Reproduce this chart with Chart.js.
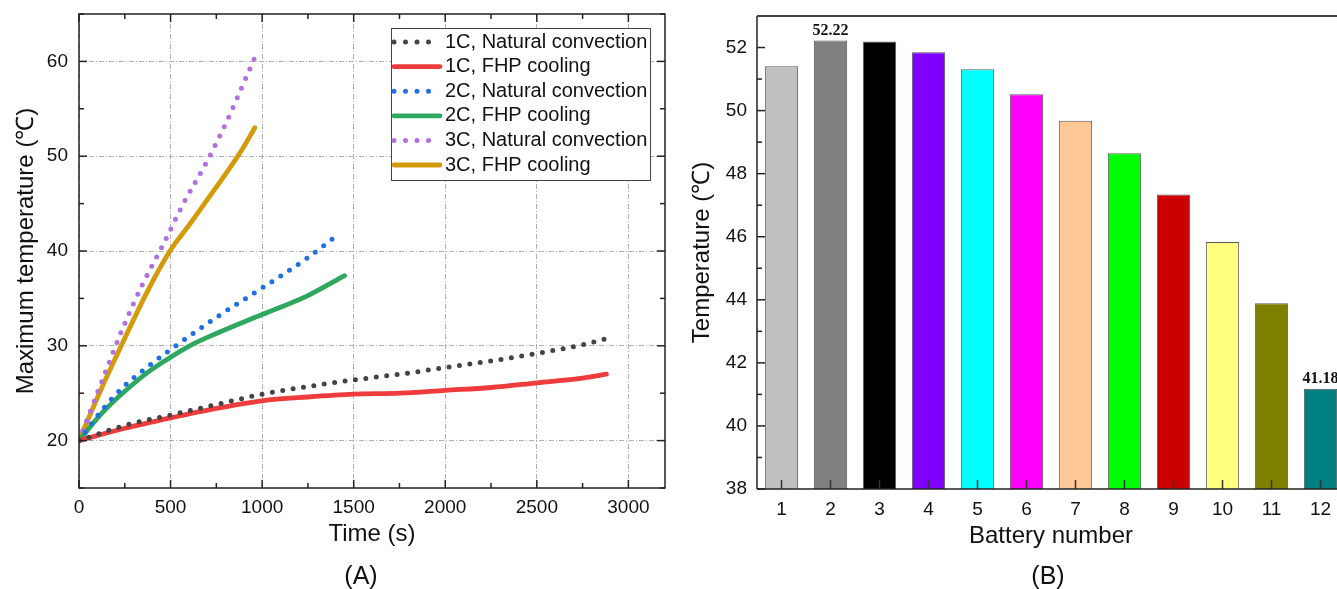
<!DOCTYPE html>
<html>
<head>
<meta charset="utf-8">
<script src="https://cdn.jsdelivr.net/npm/chart.js@4.4.0/dist/chart.umd.min.js"></script>
<style>
  html, body { margin: 0; padding: 0; background: #fff; }
  body { width: 1337px; height: 589px; position: relative; overflow: hidden; font-family: 'Liberation Sans', Arial, sans-serif; }
  #wrapA { position: absolute; left: 0; top: 0; width: 680px; height: 589px; }
  #wrapB { position: absolute; left: 680px; top: 0; width: 657px; height: 589px; overflow: hidden; }
  .panel { position: absolute; top: 561px; font-size: 25px; line-height: 28px; color: #111; transform: translateX(-50%); }
</style>
</head>
<body>
<div id="wrapA"><canvas id="chartA" width="680" height="589"></canvas></div>
<div id="wrapB"><canvas id="chartB" width="680" height="589"></canvas></div>
<div class="panel" style="left:361px">(A)</div>
<div class="panel" style="left:1048px">(B)</div>
<script>
// Panel A - maximum temperature vs time
const timeNat1C = [0, 250, 500, 750, 1000, 1250, 1500, 1750, 2000, 2250, 2500, 2750, 2870];
const tempNat1C = [20, 21.6, 22.7, 23.8, 24.9, 25.7, 26.4, 27.0, 27.7, 28.4, 29.2, 30.1, 30.7];
const timeFhp1C = [0, 250, 500, 750, 1000, 1250, 1500, 1750, 2000, 2250, 2500, 2750, 2880];
const tempFhp1C = [20, 21.3, 22.4, 23.4, 24.2, 24.6, 24.9, 25.0, 25.3, 25.6, 26.1, 26.6, 27.0];
const timeNat2C = [0, 125, 250, 375, 500, 750, 1000, 1250, 1400];
const tempNat2C = [20, 23.2, 25.8, 27.8, 29.6, 33.0, 36.1, 39.3, 41.5];
const timeFhp2C = [0, 125, 250, 375, 500, 625, 750, 1000, 1250, 1450];
const tempFhp2C = [20, 22.9, 25.2, 27.2, 28.8, 30.2, 31.3, 33.3, 35.3, 37.4];
const timeNat3C = [0, 120, 240, 350, 460, 570, 700, 810, 910, 960];
const tempNat3C = [20, 26.0, 31.9, 36.6, 40.7, 45.0, 49.5, 53.8, 58.2, 60.4];
const timeFhp3C = [0, 125, 250, 375, 500, 600, 700, 800, 900, 960];
const tempFhp3C = [20, 25.6, 30.8, 35.8, 40.1, 42.7, 45.4, 48.1, 51.0, 53.0];
const xTicksA = [0, 500, 1000, 1500, 2000, 2500, 3000];
const yTicksA = [20, 30, 40, 50, 60];

// Panel B - temperature per battery
const batteryLabels = ['1', '2', '3', '4', '5', '6', '7', '8', '9', '10', '11', '12'];
const batteryTemps = [51.41, 52.22, 52.19, 51.85, 51.31, 50.52, 49.68, 48.65, 47.34, 45.83, 43.89, 41.18];
const batteryColors = ['#C0C0C0', '#808080', '#000000', '#8000FF', '#00FFFF', '#FF00FF',
                       '#FFC896', '#00FF00', '#CC0000', '#FFFF80', '#808000', '#008080'];
const yTicksB = [38, 40, 42, 44, 46, 48, 50, 52];

const FONT = "'Liberation Sans', Arial, sans-serif";
Chart.defaults.font.family = FONT;
Chart.defaults.color = '#111';

const pts = (xs, ys) => xs.map((x, i) => ({ x: x, y: ys[i] }));
const plain = v => String(v);

// fixed axis boxes so the plot area lands where the figure has it
const fixHeight = h => s => { s.height = h; s.paddingLeft = 0; s.paddingRight = 0; };
const fixWidth = w => s => { s.width = w; s.paddingTop = 0; s.paddingBottom = 0; };

function lineSet(label, xs, ys, color, dotted) {
    return {
        label: label,
        data: pts(xs, ys),
        borderColor: color,
        backgroundColor: color,
        borderWidth: dotted ? 5 : 4.8,
        borderDash: dotted ? [0, 10.5] : [],
        borderCapStyle: 'round',
        pointRadius: 0,
        fill: false,
        cubicInterpolationMode: 'monotone',
        dotted: dotted
    };
}

function tick(ctx, x1, y1, x2, y2) {
    ctx.beginPath();
    ctx.moveTo(x1, y1);
    ctx.lineTo(x2, y2);
    ctx.stroke();
}

// box + inward ticks on all four sides
const frameA = {
    id: 'frameA',
    afterDraw(chart) {
        const { ctx, chartArea: a, scales: { x, y } } = chart;
        ctx.save();
        ctx.strokeStyle = '#222';
        ctx.lineWidth = 1.5;
        for (let v = x.min; v <= x.max; v += 250) {
            const px = x.getPixelForValue(v);
            const len = v % 500 === 0 ? 8 : 5;
            tick(ctx, px, a.bottom, px, a.bottom - len);
            tick(ctx, px, a.top, px, a.top + len);
        }
        for (let v = y.min; v <= y.max; v += 5) {
            const py = y.getPixelForValue(v);
            const len = v % 10 === 0 ? 8 : 5;
            tick(ctx, a.left, py, a.left + len, py);
            tick(ctx, a.right, py, a.right - len, py);
        }
        ctx.strokeRect(a.left, a.top, a.right - a.left, a.bottom - a.top);
        ctx.restore();
    }
};

// framed legend in the upper right corner
const legendA = {
    id: 'legendA',
    afterDraw(chart) {
        const { ctx, chartArea: a } = chart;
        const bw = 259, bh = 152;
        const bx = a.right - 15 - bw, by = a.top + 14;
        ctx.save();
        ctx.fillStyle = '#fff';
        ctx.fillRect(bx, by, bw, bh);
        ctx.strokeStyle = '#444';
        ctx.lineWidth = 1;
        ctx.strokeRect(bx + 0.5, by + 0.5, bw, bh);
        ctx.font = '20px ' + FONT;
        ctx.textBaseline = 'middle';
        chart.data.datasets.forEach((ds, i) => {
            const ry = by + 14 + i * 24.6;
            ctx.strokeStyle = ds.borderColor;
            ctx.lineCap = 'round';
            if (ds.dotted) {
                ctx.lineWidth = 5;
                ctx.setLineDash([0, 11.5]);
                tick(ctx, bx + 3, ry, bx + 40, ry);
            } else {
                ctx.lineWidth = 4.8;
                ctx.setLineDash([]);
                tick(ctx, bx + 3, ry, bx + 49, ry);
            }
            ctx.setLineDash([]);
            ctx.fillStyle = '#111';
            ctx.fillText(ds.label, bx + 54, ry);
        });
        ctx.restore();
    }
};

new Chart(document.getElementById('chartA'), {
    type: 'line',
    data: {
        datasets: [
            lineSet('1C, Natural convection', timeNat1C, tempNat1C, '#444444', true),
            lineSet('1C, FHP cooling', timeFhp1C, tempFhp1C, '#EE3B3B', false),
            lineSet('2C, Natural convection', timeNat2C, tempNat2C, '#1F6FE6', true),
            lineSet('2C, FHP cooling', timeFhp2C, tempFhp2C, '#2EA85E', false),
            lineSet('3C, Natural convection', timeNat3C, tempNat3C, '#B070E0', true),
            lineSet('3C, FHP cooling', timeFhp3C, tempFhp3C, '#D39B0A', false)
        ]
    },
    options: {
        responsive: false,
        animation: false,
        layout: { padding: { top: 14, right: 15, left: 0, bottom: 0 } },
        plugins: { legend: { display: false }, tooltip: { enabled: false } },
        scales: {
            x: {
                type: 'linear',
                min: 0,
                max: 3200,
                afterBuildTicks: s => { s.ticks = xTicksA.map(v => ({ value: v })); },
                afterFit: fixHeight(101),
                grid: { color: '#b0b0b0', lineWidth: 1, drawTicks: false },
                border: { display: false, dash: [5, 2, 1, 2] },
                ticks: { font: { size: 19 }, padding: 8, maxRotation: 0, color: '#111', callback: plain },
                title: { display: true, text: 'Time (s)', color: '#111', font: { size: 24 }, padding: { top: 0, bottom: 40 } }
            },
            y: {
                min: 15,
                max: 65,
                afterBuildTicks: s => { s.ticks = yTicksA.map(v => ({ value: v })); },
                afterFit: fixWidth(79),
                grid: { color: '#b0b0b0', lineWidth: 1, drawTicks: false },
                border: { display: false, dash: [5, 2, 1, 2] },
                ticks: { font: { size: 19 }, padding: 11, color: '#111', callback: plain },
                title: { display: true, text: 'Maximum temperature (℃)', color: '#111', font: { size: 24 }, padding: { top: 12, bottom: 0 } }
            }
        }
    },
    plugins: [frameA, legendA]
});

// left/bottom axes, top line, inward ticks
const frameB = {
    id: 'frameB',
    afterDraw(chart) {
        const { ctx, chartArea: a, scales: { x, y } } = chart;
        ctx.save();
        ctx.strokeStyle = '#222';
        ctx.lineWidth = 1.5;
        for (let v = y.min; v <= y.max; v += 1) {
            const py = y.getPixelForValue(v);
            tick(ctx, a.left, py, a.left + (v % 2 === 0 ? 8 : 5), py);
        }
        ctx.strokeStyle = '#333';
        x.ticks.forEach((t, i) => {
            const px = x.getPixelForTick(i);
            tick(ctx, px, a.bottom, px, a.bottom - 9);
        });
        ctx.strokeStyle = '#222';
        tick(ctx, a.left, a.top, a.left, a.bottom);
        tick(ctx, a.left, a.bottom, a.right, a.bottom);
        ctx.strokeStyle = '#444';
        ctx.lineWidth = 2;
        tick(ctx, a.left, a.top, a.right, a.top);
        tick(ctx, a.right, a.top, a.right, a.bottom);
        ctx.restore();
    }
};

// value labels on the hottest and coolest battery
const barLabels = {
    id: 'barLabels',
    afterDatasetsDraw(chart) {
        const { ctx } = chart;
        const meta = chart.getDatasetMeta(0);
        const vals = chart.data.datasets[0].data;
        const hi = vals.indexOf(Math.max(...vals));
        const lo = vals.indexOf(Math.min(...vals));
        ctx.save();
        ctx.font = "bold 16px 'Liberation Serif', 'Times New Roman', serif";
        ctx.fillStyle = '#111';
        ctx.textAlign = 'center';
        ctx.textBaseline = 'alphabetic';
        [hi, lo].forEach(i => {
            const bar = meta.data[i];
            ctx.fillText(vals[i].toFixed(2), bar.x, bar.y - 6);
        });
        ctx.restore();
    }
};

new Chart(document.getElementById('chartB'), {
    type: 'bar',
    data: {
        labels: batteryLabels,
        datasets: [{
            data: batteryTemps,
            backgroundColor: batteryColors,
            borderColor: '#5a5a5a',
            borderWidth: 1,
            barPercentage: 0.68,
            categoryPercentage: 1
        }]
    },
    options: {
        responsive: false,
        animation: false,
        layout: { padding: { top: 16, right: 15, left: 0, bottom: 0 } },
        plugins: { legend: { display: false }, tooltip: { enabled: false } },
        scales: {
            x: {
                type: 'category',
                offset: true,
                afterFit: fixHeight(100),
                grid: { display: false, drawTicks: false },
                border: { display: false },
                ticks: { font: { size: 19 }, padding: 9, color: '#111', maxRotation: 0 },
                title: { display: true, text: 'Battery number', color: '#111', font: { size: 24 }, padding: { top: 0, bottom: 38 } }
            },
            y: {
                min: 38,
                max: 53,
                afterBuildTicks: s => { s.ticks = yTicksB.map(v => ({ value: v })); },
                afterFit: fixWidth(77),
                grid: { display: false, drawTicks: false },
                border: { display: false },
                ticks: { font: { size: 19 }, padding: 10, color: '#111', callback: plain },
                title: { display: true, text: 'Temperature (℃)', color: '#111', font: { size: 24 }, padding: { top: 8, bottom: 0 } }
            }
        }
    },
    plugins: [frameB, barLabels]
});
</script>
</body>
</html>
